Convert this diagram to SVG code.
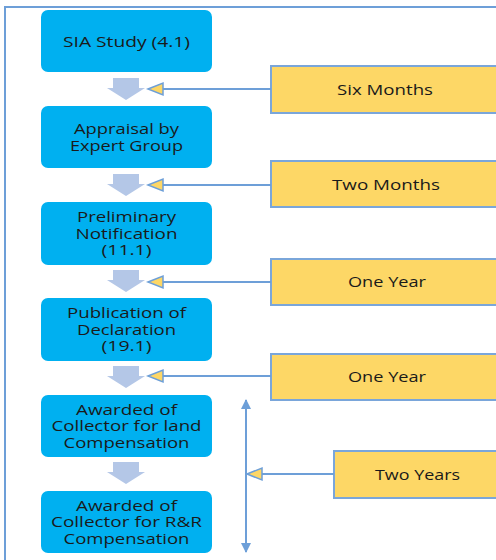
<svg xmlns="http://www.w3.org/2000/svg" width="496" height="560" viewBox="0 0 496 560">
<style>
.step rect{fill:#00b0f0;}
.step text,.time text{font-family:"Open Sans","Liberation Sans",sans-serif;font-size:14.5px;fill:#1a1a1a;text-anchor:middle;}
.time text{font-size:15px;}
.time rect{fill:#fdd766;stroke:#7aa6da;stroke-width:2;}
.flow{fill:#b4c7e7;}
.conn line{stroke:#6d9fd8;stroke-width:2;}
.tri{fill:#fdd766;stroke:#6d9fd8;stroke-width:1.5;}
</style>
<defs>
<marker id="ah" viewBox="0 0 10 10" refX="9" refY="5" markerWidth="10" markerHeight="10" markerUnits="userSpaceOnUse" orient="auto">
<path d="M0,0 L10,5 L0,10 z" fill="#6d9fd8"/>
</marker>
</defs>
<rect x="5" y="7" width="500" height="560" fill="none" stroke="#6d9fd8" stroke-width="2"/>
<g id="step1" class="step"><rect x="41" y="10" width="171" height="62" rx="7"/><text x="126.5" y="46.5" textLength="127" lengthAdjust="spacingAndGlyphs">SIA Study (4.1)</text></g>
<g id="step2" class="step"><rect x="41" y="106" width="171" height="62" rx="7"/><text x="126.5" y="133.5" textLength="105" lengthAdjust="spacingAndGlyphs">Appraisal by</text><text x="126.5" y="150.5" textLength="113" lengthAdjust="spacingAndGlyphs">Expert Group</text></g>
<g id="step3" class="step"><rect x="41" y="202" width="171" height="63" rx="7"/><text x="126.5" y="222" textLength="99" lengthAdjust="spacingAndGlyphs">Preliminary</text><text x="126.5" y="238.5" textLength="102" lengthAdjust="spacingAndGlyphs">Notification</text><text x="126.5" y="255" textLength="50" lengthAdjust="spacingAndGlyphs">(11.1)</text></g>
<g id="step4" class="step"><rect x="41" y="298" width="171" height="63" rx="7"/><text x="126.5" y="318" textLength="119" lengthAdjust="spacingAndGlyphs">Publication of</text><text x="126.5" y="334.5" textLength="99" lengthAdjust="spacingAndGlyphs">Declaration</text><text x="126.5" y="351" textLength="50" lengthAdjust="spacingAndGlyphs">(19.1)</text></g>
<g id="step5" class="step"><rect x="41" y="395" width="171" height="62" rx="7"/><text x="126.5" y="414.5" textLength="101" lengthAdjust="spacingAndGlyphs">Awarded of</text><text x="126.5" y="431" textLength="150" lengthAdjust="spacingAndGlyphs">Collector for land</text><text x="126.5" y="447.5" textLength="126" lengthAdjust="spacingAndGlyphs">Compensation</text></g>
<g id="step6" class="step"><rect x="41" y="491" width="171" height="62" rx="7"/><text x="126.5" y="510.5" textLength="101" lengthAdjust="spacingAndGlyphs">Awarded of</text><text x="126.5" y="527" textLength="151" lengthAdjust="spacingAndGlyphs">Collector for R&amp;R</text><text x="126.5" y="543.5" textLength="126" lengthAdjust="spacingAndGlyphs">Compensation</text></g>
<g id="time1" class="time"><rect x="271" y="66" width="240" height="47"/><text x="385" y="95" textLength="96" lengthAdjust="spacingAndGlyphs">Six Months</text></g>
<g id="time2" class="time"><rect x="271" y="161" width="240" height="46"/><text x="386" y="190" textLength="108" lengthAdjust="spacingAndGlyphs">Two Months</text></g>
<g id="time3" class="time"><rect x="271" y="259" width="240" height="46"/><text x="387" y="287" textLength="78" lengthAdjust="spacingAndGlyphs">One Year</text></g>
<g id="time4" class="time"><rect x="271" y="354" width="240" height="46"/><text x="387" y="382" textLength="78" lengthAdjust="spacingAndGlyphs">One Year</text></g>
<g id="time5" class="time"><rect x="334" y="451" width="180" height="47"/><text x="417.5" y="479.5" textLength="85" lengthAdjust="spacingAndGlyphs">Two Years</text></g>
<g id="connectors" class="conn">
<path class="flow" d="M113,78 H139 V88 H145 L126,100 L107,88 H113 Z"/>
<path class="flow" d="M113,174 H139 V184 H145 L126,196 L107,184 H113 Z"/>
<path class="flow" d="M113,270 H139 V280 H145 L126,292 L107,280 H113 Z"/>
<path class="flow" d="M113,366 H139 V376 H145 L126,388 L107,376 H113 Z"/>
<path class="flow" d="M113,462 H139 V472 H145 L126,484 L107,472 H113 Z"/>
<line x1="163" y1="89" x2="271" y2="89"/><polygon class="tri" points="148,89 163,83 163,95"/>
<line x1="163" y1="185" x2="271" y2="185"/><polygon class="tri" points="148,185 163,179 163,191"/>
<line x1="163" y1="282" x2="271" y2="282"/><polygon class="tri" points="148,282 163,276 163,288"/>
<line x1="163" y1="376" x2="271" y2="376"/><polygon class="tri" points="148,376 163,370 163,382"/>
<line x1="262" y1="474" x2="334" y2="474"/><polygon class="tri" points="247,474 262,468 262,480"/>
<line x1="246" y1="420" x2="246" y2="400" marker-end="url(#ah)" stroke-width="1.5"/>
<line x1="246" y1="410" x2="246" y2="552" marker-end="url(#ah)" stroke-width="1.5"/>
</g>
</svg>
